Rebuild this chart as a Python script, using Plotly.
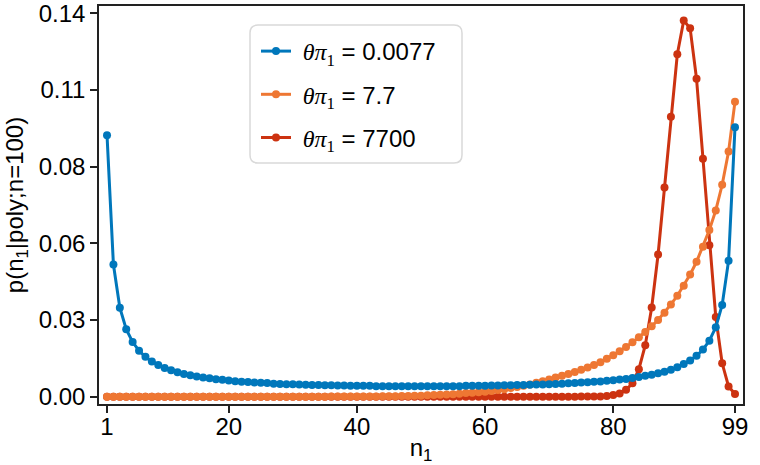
import plotly.graph_objects as go

n1 = list(range(1, 100))

p_0077 = [0.0938, 0.0474, 0.0319, 0.0242, 0.0196, 0.0165, 0.0143, 0.0126, 0.0114, 0.0103,
          0.0095, 0.0088, 0.0082, 0.0077, 0.0073, 0.0069, 0.0066, 0.0063, 0.0061, 0.0058,
          0.0056, 0.0054, 0.0053, 0.0051, 0.0050, 0.0049, 0.0047, 0.0046, 0.0045, 0.0045,
          0.0044, 0.0043, 0.0042, 0.0042, 0.0041, 0.0041, 0.0040, 0.0040, 0.0039, 0.0039,
          0.0039, 0.0039, 0.0038, 0.0038, 0.0038, 0.0038, 0.0038, 0.0038, 0.0038, 0.0038,
          0.0038, 0.0038, 0.0038, 0.0038, 0.0038, 0.0038, 0.0039, 0.0039, 0.0039, 0.0039,
          0.0040, 0.0040, 0.0041, 0.0041, 0.0042, 0.0042, 0.0043, 0.0044, 0.0044, 0.0045,
          0.0046, 0.0047, 0.0048, 0.0049, 0.0051, 0.0052, 0.0054, 0.0055, 0.0057, 0.0059,
          0.0062, 0.0064, 0.0067, 0.0071, 0.0075, 0.0079, 0.0084, 0.0090, 0.0097, 0.0106,
          0.0117, 0.0130, 0.0147, 0.0169, 0.0201, 0.0249, 0.0329, 0.0488, 0.0966]

p_77 = [0.0, 0.0, 0.0, 0.0, 0.0, 0.0, 0.0, 0.0, 0.0, 0.0,
        0.0, 0.0, 0.0, 0.0, 0.0, 0.0, 0.0, 0.0, 0.0, 0.0,
        0.0, 0.0, 0.0, 0.0, 0.0, 0.0, 0.0, 0.0, 0.0, 0.0,
        0.00001, 0.00002, 0.00002, 0.00003, 0.00004, 0.00005, 0.00006, 0.00007, 0.00009, 0.0001,
        0.0001, 0.0001, 0.0001, 0.0002, 0.0002, 0.0002, 0.0003, 0.0003, 0.0004, 0.0004,
        0.0005, 0.0006, 0.0007, 0.0008, 0.0009, 0.0011, 0.0013, 0.0014, 0.0016, 0.0018,
        0.0021, 0.0024, 0.0027, 0.0031, 0.0035, 0.0039, 0.0044, 0.0050, 0.0056, 0.0062,
        0.0069, 0.0075, 0.0082, 0.0089, 0.0097, 0.0105, 0.0114, 0.0124, 0.0136, 0.0149,
        0.0163, 0.0178, 0.0195, 0.0213, 0.0232, 0.0253, 0.0275, 0.0301, 0.0331, 0.0362,
        0.0398, 0.0438, 0.0484, 0.0538, 0.0598, 0.0668, 0.0760, 0.0879, 0.1058]

p_7700 = [0.0] * 70 + [
        0.0, 0.00001, 0.00002, 0.00003, 0.00005, 0.00008, 0.0001, 0.0001, 0.0003, 0.0006,
        0.0012, 0.0025, 0.0048, 0.0099, 0.0185, 0.0320, 0.0510, 0.0750, 0.1004, 0.1228,
        0.1349, 0.1321, 0.1140, 0.0853, 0.0543, 0.0286, 0.0120, 0.0037, 0.0010]

y_tickvals = [0.0, 0.0275, 0.055, 0.0825, 0.11, 0.1375]
y_ticktext = ["0.00", "0.03", "0.06", "0.08", "0.11", "0.14"]
x_tickvals = [1, 20, 40, 60, 80, 99]

series = [
    ("0.0077", p_0077, "#0077BB", 1),
    ("7.7", p_77, "#EE7733", 2),
    ("7700", p_7700, "#CC3311", 3),
]

fig = go.Figure()
for label, vals, color, rank in reversed(series):
    fig.add_trace(go.Scatter(
        x=n1, y=vals, mode="lines+markers",
        name='\u00a0<span style="font-family:Liberation Serif"><i>θπ</i><sub>1</sub></span> = ' + label,
        line=dict(color=color, width=3),
        marker=dict(color=color, size=8),
        legendgroup=label, legendrank=rank,
    ))

FONT = "Liberation Sans, Arial, Helvetica, sans-serif"
W, H = 760, 465
ml, mr, mt, mb = 99, 17, 6, 61
pw, ph = W - ml - mr, H - mt - mb

def px2x(px):
    return (px - ml) / pw

def px2y(py):
    return (H - mb - py) / ph

bx0, bx1, by0, by1 = px2x(250), px2x(462), px2y(163), px2y(25)
rx, ry = 8 / pw, 8 / ph
path = (f"M {bx0+rx},{by0} L {bx1-rx},{by0} Q {bx1},{by0} {bx1},{by0+ry} "
        f"L {bx1},{by1-ry} Q {bx1},{by1} {bx1-rx},{by1} L {bx0+rx},{by1} "
        f"Q {bx0},{by1} {bx0},{by1-ry} L {bx0},{by0+ry} Q {bx0},{by0} {bx0+rx},{by0} Z")

fig.update_layout(
    width=W, height=H,
    margin=dict(l=ml, r=mr, t=mt, b=mb, autoexpand=False),
    paper_bgcolor="white", plot_bgcolor="white",
    font=dict(family=FONT, size=24, color="black"),
    showlegend=True,
    legend=dict(
        x=px2x(256), y=px2y(29), xanchor="left", yanchor="top",
        bgcolor="rgba(0,0,0,0)", borderwidth=0,
        font=dict(family=FONT, size=24, color="black"),
        traceorder="grouped", tracegroupgap=9,
    ),
    shapes=[dict(type="path", path=path, xref="paper", yref="paper",
                 line=dict(color="#d9d9d9", width=1.5), fillcolor="white",
                 layer="above")],
    xaxis=dict(
        range=[-0.25, 100.25], tickvals=x_tickvals, automargin=False,
        showline=True, linecolor="#222", linewidth=1.5, mirror=True,
        ticks="outside", ticklen=7, tickwidth=1.5, tickcolor="#222",
        ticklabelstandoff=-7,
        showgrid=False, zeroline=False,
        tickfont=dict(size=24),
        title=dict(text="n<sub>1</sub>", font=dict(size=24), standoff=8),
    ),
    yaxis=dict(
        range=[-0.0026, 0.1401], tickvals=y_tickvals, ticktext=y_ticktext,
        automargin=False, ticklabeloverflow="allow",
        showline=True, linecolor="#222", linewidth=1.5, mirror=True,
        ticks="outside", ticklen=7, tickwidth=1.5, tickcolor="#222",
        showgrid=False, zeroline=False,
        tickfont=dict(size=24),
        title=dict(text="p(n<sub>1</sub>|poly;n=100)", font=dict(size=24), standoff=8),
    ),
)

fig.write_html("out.html", config={"displayModeBar": False},
               post_script="document.body.style.margin='0';")
